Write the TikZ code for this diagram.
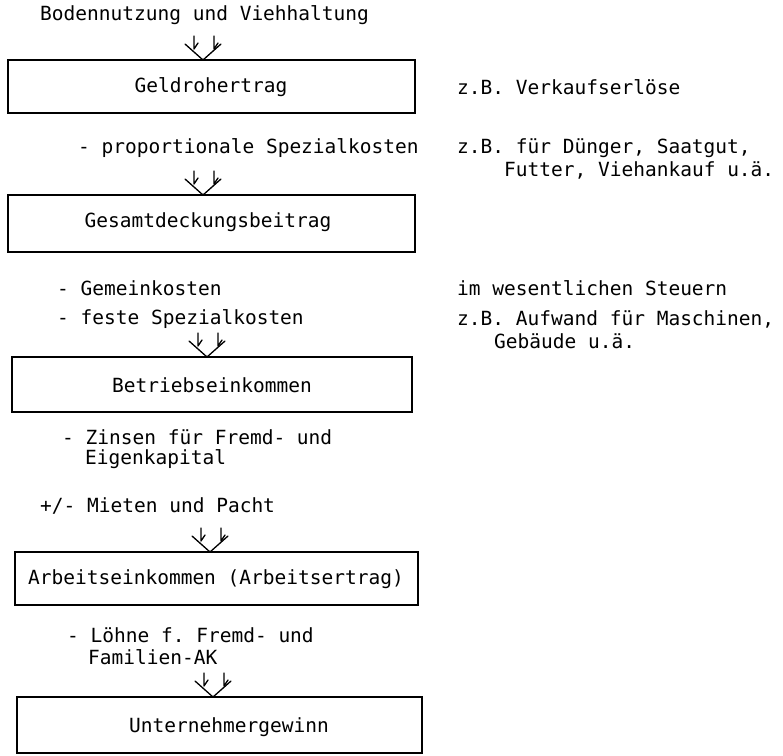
\documentclass[tikz,border=0pt]{standalone}
\usepackage{fontspec}
\setmonofont{DejaVu Sans Mono}
\begin{document}
\begin{tikzpicture}[x=1pt,y=-1pt,
  txt/.style={font=\ttfamily\fontsize{19.5}{22}\selectfont, inner sep=0pt, anchor=west},
  ctxt/.style={font=\ttfamily\fontsize{19.5}{22}\selectfont, inner sep=0pt},
  boxline/.style={draw=black, line width=1.3pt},
  conn/.style={draw=black, line width=1.3pt, line cap=round, line join=round},
  merge/.pic={
    \draw[conn] (-18,-16) -- (0,0) -- (18,-16);
    \draw[conn] (-9,-24) -- (-9,-11) -- (-5,-17);
    \draw[conn] (11,-24) -- (11,-11) -- (15,-17);
  }]
\useasboundingbox (0,0) rectangle (783,755);

% top label
\node[txt] (src) at (40,15) {Bodennutzung und Viehhaltung};

% boxes
\draw[boxline] (8,60) rectangle (415,113);
\node[ctxt] (b1) at (211,87) {Geldrohertrag};
\draw[boxline] (8,195) rectangle (415,252);
\node[ctxt] (b2) at (208,222) {Gesamtdeckungsbeitrag};
\draw[boxline] (12,357) rectangle (412,412);
\node[ctxt] (b3) at (212,385) {Betriebseinkommen};
\draw[boxline] (15,552) rectangle (418,605);
\node[ctxt] (b4) at (216,579) {Arbeitseinkommen (Arbeitsertrag)};
\draw[boxline] (17,697) rectangle (422,753);
\node[ctxt] (b5) at (229,727) {Unternehmergewinn};

% deduction labels
\node[txt] (d1) at (78,148) {- proportionale Spezialkosten};
\node[txt] (d2) at (57,288) {- Gemeinkosten};
\node[txt] (d3) at (57,319) {- feste Spezialkosten};
\node[txt] (d4) at (62,437) {- Zinsen für Fremd- und};
\node[txt] (d4b) at (85,459) {Eigenkapital};
\node[txt] (d5) at (40,506) {+/- Mieten und Pacht};
\node[txt] (d6) at (67,635) {- Löhne f. Fremd- und};
\node[txt] (d6b) at (88,657) {Familien-AK};

% right-hand remarks
\node[txt] (r1) at (457,87) {z.B. Verkaufserlöse};
\node[txt] (r2) at (457,148) {z.B. für Dünger, Saatgut,};
\node[txt] (r2b) at (504,170) {Futter, Viehankauf u.ä.};
\node[txt] (r3) at (457,288) {im wesentlichen Steuern};
\node[txt] (r4) at (457,319) {z.B. Aufwand für Maschinen,};
\node[txt] (r4b) at (494,341) {Gebäude u.ä.};

% merge arrows
\coordinate (a1) at (203,60);
\coordinate (a2) at (203,195);
\coordinate (a3) at (207,357);
\coordinate (a4) at (210,552);
\coordinate (a5) at (213,697);
\pic at (a1) {merge};
\pic at (a2) {merge};
\pic at (a3) {merge};
\pic at (a4) {merge};
\pic at (a5) {merge};
\end{tikzpicture}
\end{document}
